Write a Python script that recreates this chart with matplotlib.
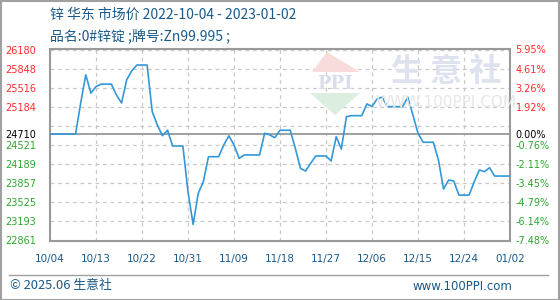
import matplotlib
matplotlib.use("Agg")
import matplotlib.pyplot as plt
from matplotlib.patches import Polygon, Rectangle
from matplotlib.lines import Line2D
import pandas as pd

plt.rcParams['font.family'] = ['Noto Sans CJK SC', 'DejaVu Sans']

# ---------------- data ----------------
title_line1 = "锌 华东 市场价 2022-10-04 - 2023-01-02"
title_line2 = "品名:0#锌锭 ;牌号:Zn99.995 ;"
footer_left = "© 2025.06 生意社"
footer_right = "www.100PPI.com"

trade_dates = [
    "2022-10-04", "2022-10-10", "2022-10-11", "2022-10-12", "2022-10-13", "2022-10-14",
    "2022-10-17", "2022-10-18", "2022-10-19", "2022-10-20", "2022-10-21",
    "2022-10-24", "2022-10-25", "2022-10-26", "2022-10-27", "2022-10-28",
    "2022-10-31", "2022-11-01", "2022-11-02", "2022-11-03", "2022-11-04",
    "2022-11-07", "2022-11-08", "2022-11-09", "2022-11-10", "2022-11-11",
    "2022-11-14", "2022-11-15", "2022-11-16", "2022-11-17", "2022-11-18",
    "2022-11-21", "2022-11-22", "2022-11-23", "2022-11-24", "2022-11-25",
    "2022-11-28", "2022-11-29", "2022-11-30", "2022-12-01", "2022-12-02",
    "2022-12-05", "2022-12-06", "2022-12-07", "2022-12-08", "2022-12-09",
    "2022-12-12", "2022-12-13", "2022-12-14", "2022-12-15", "2022-12-16",
    "2022-12-19", "2022-12-20", "2022-12-21", "2022-12-22", "2022-12-23",
    "2022-12-26", "2022-12-27", "2022-12-28", "2022-12-29", "2022-12-30",
]
prices = [
    24710, 25247, 25740, 25421, 25536, 25578,
    25390, 25250, 25652, 25809, 25910,
    25100, 24869, 24683, 24777, 24503,
    23708, 23140, 23680, 23882, 24317,
    24521, 24680, 24521, 24289, 24347,
    24347, 24725, 24695, 24648, 24777,
    24463, 24115, 24068, 24202, 24330,
    24243, 24665, 24451, 25014, 25030,
    25235, 25188, 25322, 25351, 25188,
    25188, 25351, 25043, 24725, 24568,
    24260, 23755, 23912, 23894, 23650,
    23882, 24086, 24057, 24126, 23981,
]
start_date = "2022-10-04"
end_date = "2023-01-02"
base_price = 24710
y_min, y_max = 22861, 26180
grid_values = [22861, 23193, 23525, 23857, 24189, 24521, 24853, 25184, 25516, 25848, 26180]
label_values = [22861, 23193, 23525, 23857, 24189, 24521, 24710, 25184, 25516, 25848, 26180]
pct_labels = ["-7.48%", "-6.14%", "-4.79%", "-3.45%", "-2.11%", "-0.76%", "0.00%",
              "1.92%", "3.26%", "4.61%", "5.95%"]
x_tick_labels = ["10/04", "10/13", "10/22", "10/31", "11/09", "11/18",
                 "11/27", "12/06", "12/15", "12/24", "01/02"]

# ---------------- build series ----------------
s = pd.Series(prices, index=pd.to_datetime(trade_dates))
daily = s.reindex(pd.date_range(start_date, end_date, freq="D")).ffill()

W, H = 560, 300
fig = plt.figure(figsize=(W / 100, H / 100), dpi=100)
fig.patch.set_facecolor("white")

def fx(px):
    return px / W

def fy(py):
    return 1 - py / H

# outer border
fig.add_artist(Rectangle((0.5 / W, 0.5 / H), 1 - 1.5 / W, 1 - 1.5 / H, transform=fig.transFigure,
                         fill=False, edgecolor="#a0a0a0", linewidth=1.5))

# watermark logo (decoration)
wm = [
    Polygon([[fx(312), fy(72)], [fx(360), fy(72)], [fx(327), fy(52)]], closed=True,
            transform=fig.transFigure, facecolor="#f8dcdc", edgecolor="none"),
    Polygon([[fx(310), fy(93)], [fx(360), fy(93)], [fx(335), fy(115)]], closed=True,
            transform=fig.transFigure, facecolor="#dceee0", edgecolor="none"),
]
for p in wm:
    fig.add_artist(p)
fig.text(fx(335), fy(84), "PPI", ha="center", va="center", fontsize=13, fontweight="bold",
         color="#d8deec", family=["DejaVu Serif"])
fig.text(fx(446), fy(72), "生 意 社", ha="center", va="center", fontsize=23,
         color="#dde2ee", fontweight="bold")
fig.text(fx(446), fy(102), "WWW.100PPI.COM", ha="center", va="center", fontsize=11,
         color="#e6e6e6", family=["DejaVu Sans"])

# main axes
left, right, top, bottom = 50, 510, 49.5, 240.5
ax = fig.add_axes([fx(left), fy(bottom), fx(right - left), (bottom - top) / H])
ax.set_facecolor("none")
ax.set_xlim(pd.Timestamp(start_date), pd.Timestamp(end_date))
ax.set_ylim(y_min, y_max)

for gv in grid_values:
    ax.axhline(gv, color="#c8c8c8", linestyle=(0, (3, 3)), linewidth=0.9, zorder=1)
tick_dates = pd.date_range(start_date, end_date, freq="9D")
for td in tick_dates:
    ax.axvline(td, color="#c8c8c8", linestyle=(0, (3, 3)), linewidth=0.9, zorder=1)
ax.axhline(base_price, color="#999999", linewidth=1.3, zorder=2)

ax.plot(daily.index, daily.values, color="#3398d8", linewidth=1.2, zorder=3)

for sp in ax.spines.values():
    sp.set_color("#9a9a9a")
    sp.set_linewidth(1.5)

ax.set_xticks(tick_dates)
ax.set_xticklabels(x_tick_labels, family=["DejaVu Sans"], fontsize=7.5, color="#1a5a8a")
ax.tick_params(axis="x", length=0, pad=10)

def col(v):
    if v > base_price:
        return "#ff2a2a"
    if v < base_price:
        return "#2aa82a"
    return "#000000"

ax.set_yticks(label_values)
ax.set_yticklabels([str(v) for v in label_values], family=["DejaVu Sans"], fontsize=7)
for lbl, v in zip(ax.get_yticklabels(), label_values):
    lbl.set_color(col(v))
ax.tick_params(axis="y", length=0, pad=10)

ax2 = ax.twinx()
ax2.set_ylim(y_min, y_max)
ax2.set_yticks(label_values)
ax2.set_yticklabels(pct_labels, family=["DejaVu Sans"], fontsize=7)
for lbl, v in zip(ax2.get_yticklabels(), label_values):
    lbl.set_color(col(v))
ax2.tick_params(axis="y", length=0, pad=4)
for sp in ax2.spines.values():
    sp.set_visible(False)

# titles
fig.text(fx(50), fy(15), title_line1, ha="left", va="center", fontsize=10, color="#1a5a8a")
fig.text(fx(50), fy(36), title_line2, ha="left", va="center", fontsize=10, color="#1a5a8a")

# footer
fig.add_artist(Line2D([fx(9), fx(548)], [fy(275), fy(275)], transform=fig.transFigure,
                      color="#a0a0a0", linewidth=1))
fig.text(fx(10), fy(286), footer_left, ha="left", va="center", fontsize=9.3, color="#1a5a8a")
fig.text(fx(512), fy(286), footer_right, ha="right", va="center", fontsize=8.5, color="#1a5a8a",
         family=["DejaVu Sans"])

fig.savefig("out.png", dpi=100)
